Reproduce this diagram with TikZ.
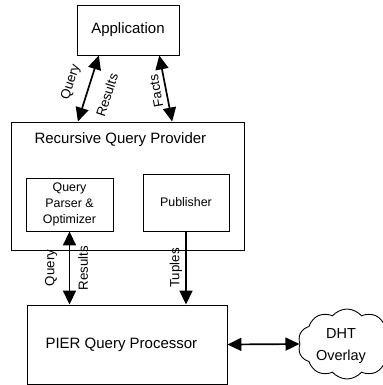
\documentclass[tikz,border=0pt]{standalone}
\usepackage{fontspec}
\setmainfont{Liberation Sans}
\usetikzlibrary{arrows.meta,shapes.symbols,calc}
\begin{document}
\begin{tikzpicture}[x=1bp,y=-1bp,
  box/.style={draw,line width=0.9bp,minimum width=#1,inner sep=0pt},
  big/.style={font=\fontsize{15bp}{18bp}\selectfont},
  small/.style={font=\fontsize{12.4bp}{16bp}\selectfont},
  lab/.style={font=\fontsize{13.3bp}{16bp}\selectfont,inner sep=0pt},
  conn/.style={line width=1.7bp,{Triangle[length=14bp,width=13bp]}-{Triangle[length=14bp,width=13bp]}},
  conn1/.style={line width=1.7bp,-{Triangle[length=14bp,width=13bp]}}
]
\useasboundingbox (0,0) rectangle (383,385);
% boxes
\node[box=102bp,minimum height=50bp,big] (app) at (128,30) {Application};
\node[box=233bp,minimum height=128bp] (rqp) at (127.5,186) {};
\node[big,anchor=west] (rqpt) at (31,140) {Recursive Query Provider};
\node[box=87bp,minimum height=53bp,small,align=center] (qp) at (69.5,204.5) {Query\\Parser \&\\Optimizer};
\node[box=86bp,minimum height=57bp,small] (pub) at (186,202.5) {Publisher};
\node[box=200bp,minimum height=79bp] (pier) at (127,344.5) {};
\node[big,anchor=west] (piert) at (42,345) {PIER Query Processor};
\node[cloud,draw,line width=0.9bp,cloud puffs=10,cloud puff arc=100,aspect=1.35,
  minimum width=98bp,minimum height=70bp,inner sep=0pt] (dht) at (347,344) {};
\node[align=center,font=\fontsize{14.5bp}{22bp}\selectfont] (dhtt) at (341,346) {DHT\\Overlay};
% connectors
\draw[conn] ($(rqp.north west)!0.288!(rqp.north east)$) -- ($(app.south west)!0.216!(app.south east)$);
\draw[conn] ($(rqp.north west)!0.691!(rqp.north east)$) -- ($(app.south west)!0.804!(app.south east)$);
\draw[conn] (qp.south) -- (qp.south |- pier.north);
\draw[conn1] (pub.south) -- (pub.south |- pier.north);
\draw[conn] (pier.east) -- (dht.west);
% labels
\node[lab,rotate=72] (l1) at (71,82) {Query};
\node[lab,rotate=72] (l2) at (107,95) {Results};
\node[lab,rotate=100] (l3) at (156,91) {Facts};
\node[lab,rotate=90] (l4) at (51,268) {Query};
\node[lab,rotate=90] (l5) at (83,268) {Results};
\node[lab,rotate=90] (l6) at (176,268) {Tuples};
\end{tikzpicture}
\end{document}
